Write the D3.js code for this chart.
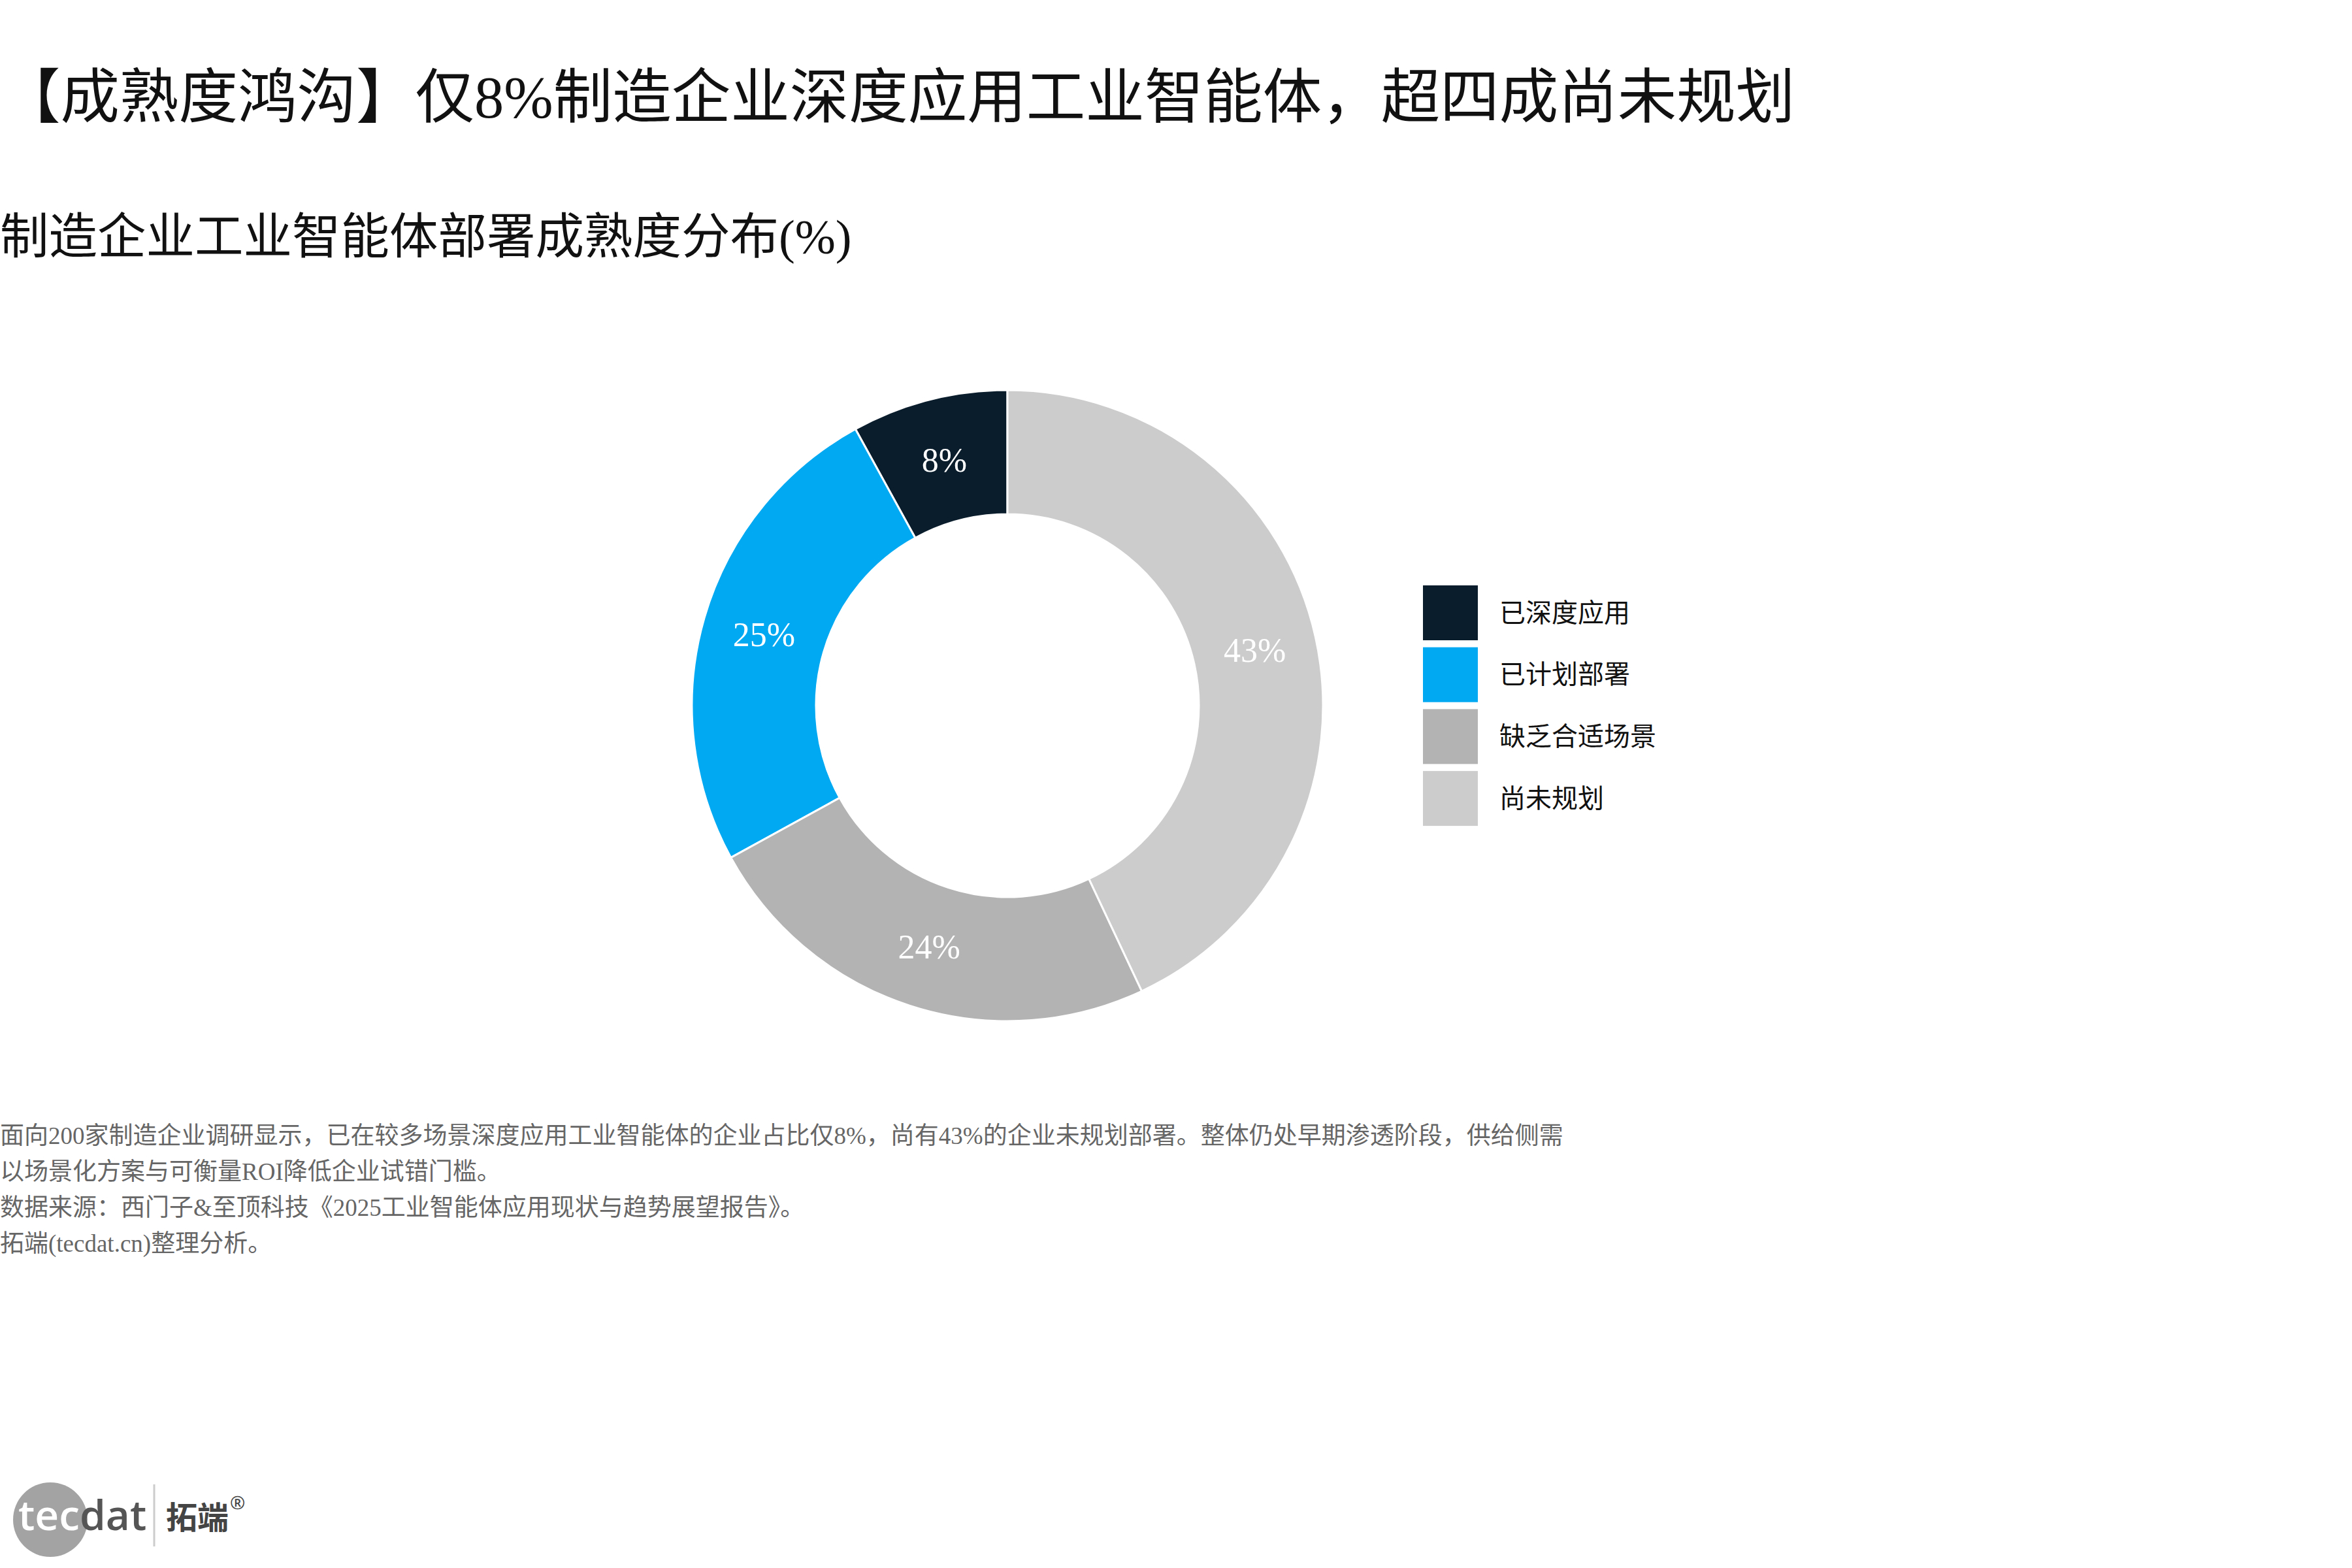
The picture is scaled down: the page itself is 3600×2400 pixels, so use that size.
<!DOCTYPE html>
<html>
<head>
<meta charset="utf-8">
<script src="https://cdn.jsdelivr.net/npm/d3@7"></script>
<style>
  html, body { margin: 0; padding: 0; background: #ffffff; }
  svg { display: block; }
</style>
</head>
<body>
<svg id="chart" width="3600" height="2400"></svg>
<script>
// ---- data ----
const categories = ["已深度应用", "已计划部署", "缺乏合适场景", "尚未规划"];
const values = [8, 25, 24, 43];
const colors = ["#0a1d2d", "#00a9f2", "#b3b3b3", "#cccccc"];
const titleText = "【成熟度鸿沟】仅8%制造企业深度应用工业智能体，超四成尚未规划";
const subtitleText = "制造企业工业智能体部署成熟度分布(%)";
const notes = [
  "面向200家制造企业调研显示，已在较多场景深度应用工业智能体的企业占比仅8%，尚有43%的企业未规划部署。整体仍处早期渗透阶段，供给侧需",
  "以场景化方案与可衡量ROI降低企业试错门槛。",
  "数据来源：西门子&至顶科技《2025工业智能体应用现状与趋势展望报告》。",
  "拓端(tecdat.cn)整理分析。"
];

const FONT = "'Liberation Serif', 'Noto Sans CJK SC', serif";
const svg = d3.select("#chart");

// title & subtitle
svg.append("text").attr("x", 2).attr("y", 180)
  .attr("font-family", FONT).attr("font-size", 90.5).attr("fill", "#111")
  .text(titleText);
svg.append("text").attr("x", 0).attr("y", 388)
  .attr("font-family", FONT).attr("font-size", 74.5).attr("fill", "#111")
  .text(subtitleText);

// donut
const cx = 1542, cy = 1080, R = 483, r = 293;
const pie = d3.pie().sort(null).value(d => d.v).startAngle(0).endAngle(-2 * Math.PI);
const data = categories.map((c, i) => ({ c, v: values[i], col: colors[i] }));
const arcs = pie(data);
const arc = d3.arc().innerRadius(r).outerRadius(R);
const g = svg.append("g").attr("transform", `translate(${cx},${cy})`);
g.selectAll("path").data(arcs).join("path")
  .attr("d", arc)
  .attr("fill", d => d.data.col)
  .attr("stroke", "#ffffff").attr("stroke-width", 3).attr("stroke-linejoin", "miter");
g.selectAll("text").data(arcs).join("text")
  .attr("transform", d => `translate(${arc.centroid(d)})`)
  .attr("text-anchor", "middle").attr("dominant-baseline", "central")
  .attr("font-family", FONT).attr("font-size", 52).attr("fill", "#ffffff")
  .text(d => d.data.v + "%");

// legend
const lg = svg.append("g").attr("transform", "translate(2178,896)");
const items = lg.selectAll("g").data(data).join("g")
  .attr("transform", (d, i) => `translate(0,${i * 94.7})`);
items.append("rect").attr("width", 84).attr("height", 84).attr("fill", d => d.col);
items.append("text").attr("x", 117).attr("y", 42)
  .attr("dominant-baseline", "central")
  .attr("font-family", FONT).attr("font-size", 40).attr("fill", "#111")
  .text(d => d.c);

// notes
svg.append("g").selectAll("text").data(notes).join("text")
  .attr("x", 0).attr("y", (d, i) => 1751 + i * 55)
  .attr("font-family", FONT).attr("font-size", 37).attr("fill", "#666")
  .text(d => d);

// logo
const logo = svg.append("g");
logo.append("circle").attr("cx", 77).attr("cy", 2326).attr("r", 57).attr("fill", "#a3a3a3");
const lt = logo.append("text").attr("x", 28).attr("y", 2342)
  .attr("font-family", "'Open Sans', sans-serif").attr("font-weight", 600).attr("font-size", 64);
lt.append("tspan").attr("fill", "#ffffff").text("tec");
lt.append("tspan").attr("fill", "#555555").text("dat");
logo.append("line").attr("x1", 236).attr("x2", 236).attr("y1", 2272).attr("y2", 2367)
  .attr("stroke", "#cccccc").attr("stroke-width", 3);
logo.append("text").attr("x", 254).attr("y", 2340)
  .attr("font-family", "'Noto Sans CJK SC', sans-serif").attr("font-weight", 700)
  .attr("font-size", 48).attr("fill", "#444").text("拓端");
logo.append("text").attr("x", 352).attr("y", 2310)
  .attr("font-family", "'Noto Sans', sans-serif")
  .attr("font-size", 28).attr("fill", "#444").text("®");
</script>
</body>
</html>
